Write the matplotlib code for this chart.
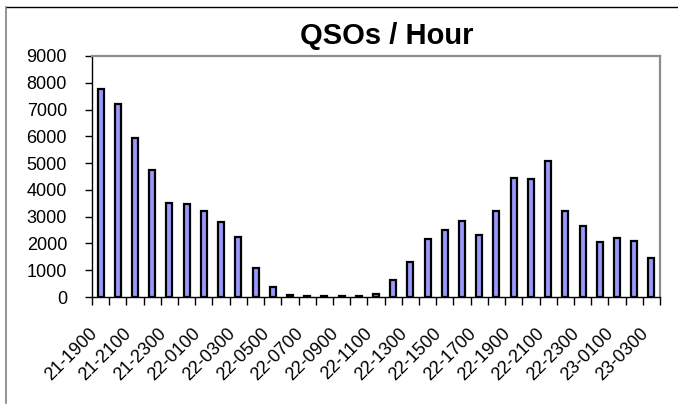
import numpy as np
import matplotlib
matplotlib.use('Agg')
import matplotlib.pyplot as plt
from matplotlib.lines import Line2D

# hourly slots, day-hour
hours = ['21-1900', '21-2000', '21-2100', '21-2200', '21-2300',
         '22-0000', '22-0100', '22-0200', '22-0300', '22-0400', '22-0500',
         '22-0600', '22-0700', '22-0800', '22-0900', '22-1000', '22-1100',
         '22-1200', '22-1300', '22-1400', '22-1500', '22-1600', '22-1700',
         '22-1800', '22-1900', '22-2000', '22-2100', '22-2200', '22-2300',
         '23-0000', '23-0100', '23-0200', '23-0300']
qsos = [7750, 7225, 5940, 4760, 3510, 3475, 3225, 2800, 2225, 1090, 390,
        75, 25, 25, 25, 35, 110, 625, 1300, 2175, 2510, 2825, 2310,
        3200, 4450, 4425, 5075, 3200, 2650, 2050, 2200, 2075, 1440]

plt.rcParams['font.family'] = ['Liberation Sans', 'DejaVu Sans']

fig = plt.figure(figsize=(6.78, 4.07), dpi=100)
ax = fig.add_axes([92/678, 1 - 297/407, (660 - 92)/678, (297 - 56)/407])

x = np.arange(len(hours))
ax.bar(x, qsos, width=0.35, color='#9999ff', edgecolor='black', linewidth=1.6)

ax.set_xlim(-0.5, len(hours) - 0.5)
ax.set_ylim(0, 9000)
ax.set_yticks(np.arange(0, 9001, 1000))
ax.tick_params(axis='y', direction='out', length=5, width=1, pad=13, labelsize=13)

# labels on every other bar, ticks between bars
ax.set_xticks(x[::2])
ax.set_xticklabels(hours[::2], rotation=45, ha='right', va='top', fontsize=13)
ax.set_xticks(np.arange(-0.5, len(hours), 1), minor=True)
ax.tick_params(axis='x', which='major', length=0, pad=20)
ax.tick_params(axis='x', which='minor', direction='out', length=6, width=1)

for s in ['left', 'bottom']:
    ax.spines[s].set_color('black')
    ax.spines[s].set_linewidth(1.0)
for s in ['top', 'right']:
    ax.spines[s].set_color('#8c8c8c')
    ax.spines[s].set_linewidth(1.6)

fig.text(387/678, 1 - 36/407, 'QSOs / Hour', ha='center', va='center',
         fontsize=21, fontweight='bold')

# outer chart frame (cut off at right and bottom)
fig.add_artist(Line2D([6/678, 1], [1 - 7/407, 1 - 7/407], color='black', lw=1.0,
                      transform=fig.transFigure))
fig.add_artist(Line2D([6/678, 6/678], [0.01, 1 - 7/407], color='#808080', lw=1.2,
                      transform=fig.transFigure))

fig.savefig('out.png', dpi=100)
